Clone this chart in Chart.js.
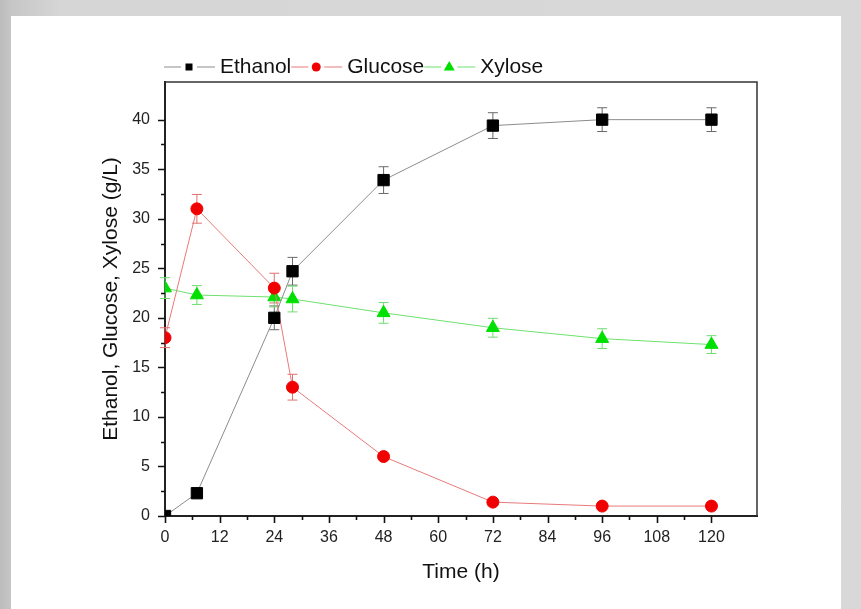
<!DOCTYPE html>
<html>
<head>
<meta charset="utf-8">
<script src="https://cdn.jsdelivr.net/npm/chart.js@4/dist/chart.umd.min.js"></script>
<style>
  html, body { margin:0; padding:0; width:861px; height:609px; overflow:hidden; }
  body { background: linear-gradient(90deg, #bcbcbc 0px, #c6c6c6 11px, #d6d6d6 60px, #d8d8d8 100%); position:relative; }
  #panel { position:absolute; left:11px; top:16px; width:830px; height:593px; background:#fff; }
  #wrap { position:absolute; left:0; top:0; width:861px; height:609px; }
</style>
</head>
<body>
<div id="panel"></div>
<div id="wrap"><canvas id="c" width="861" height="609"></canvas></div>
<script>
// ---- data ----
const timeH = [0, 7, 24, 28, 48, 72, 96, 120];
const ethanol = [0, 2.3, 20, 24.7, 33.9, 39.4, 40, 40];
const ethanolErr = [0, 0, 1.2, 1.4, 1.35, 1.3, 1.2, 1.2];
const glucose = [18, 31, 23, 13, 6, 1.4, 1.0, 1.0];
const glucoseErr = [1.0, 1.45, 1.5, 1.3, 0.3, 0.3, 0.2, 0.2];
const xylose = [23, 22.3, 22.1, 21.9, 20.5, 19, 17.9, 17.3];
const xyloseErr = [1.05, 0.95, 1.0, 1.3, 1.05, 0.95, 1.0, 0.9];
const seriesNames = ['Ethanol', 'Glucose', 'Xylose'];
const xTickStep = 6, xLabelStep = 12;
const yTickStep = 2.5, yLabelStep = 5;

const FONT = '"Liberation Sans", Arial, sans-serif';
const toPts = (ys) => timeH.map((t, i) => ({ x: t, y: ys[i] }));

const errorBars = {
  id: 'errorBars',
  beforeDatasetsDraw(chart) {
    const { ctx, scales: { x, y } } = chart;
    ctx.save();
    chart.data.datasets.forEach((ds) => {
      ds.data.forEach((p, j) => {
        const e = ds.errors[j];
        if (!e) return;
        const px = x.getPixelForValue(p.x);
        const t = y.getPixelForValue(p.y + e);
        const b = y.getPixelForValue(p.y - e);
        ctx.strokeStyle = ds.errorColor;
        ctx.lineWidth = 1;
        ctx.beginPath();
        ctx.moveTo(px, t); ctx.lineTo(px, b);
        ctx.moveTo(px - 5, t); ctx.lineTo(px + 5, t);
        ctx.moveTo(px - 5, b); ctx.lineTo(px + 5, b);
        ctx.stroke();
      });
    });
    ctx.restore();
  }
};

const frameAndTicks = {
  id: 'frameAndTicks',
  afterDraw(chart) {
    const { ctx, chartArea: a, scales: { x, y } } = chart;
    ctx.save();
    ctx.strokeStyle = '#333';
    ctx.lineWidth = 1.5;
    ctx.beginPath();
    ctx.moveTo(a.left, a.top); ctx.lineTo(a.right, a.top); ctx.lineTo(a.right, a.bottom);
    ctx.stroke();
    ctx.strokeStyle = '#111';
    ctx.lineWidth = 1.6;
    ctx.beginPath();
    x.ticks.forEach(t => {
      const px = Math.round(x.getPixelForValue(t.value)) + 0.5;
      const major = Math.abs(t.value % xLabelStep) < 1e-6;
      ctx.moveTo(px, a.bottom); ctx.lineTo(px, a.bottom + (major ? 7 : 4));
    });
    y.ticks.forEach(t => {
      const py = Math.round(y.getPixelForValue(t.value)) + 0.5;
      const major = Math.abs(t.value % yLabelStep) < 1e-6;
      ctx.moveTo(a.left, py); ctx.lineTo(a.left - (major ? 7 : 4), py);
    });
    ctx.stroke();
    ctx.restore();
  }
};

const customLegend = {
  id: 'customLegend',
  afterDraw(chart) {
    const { ctx } = chart;
    const yc = 67;
    let x0 = 164;
    ctx.save();
    ctx.font = '21px ' + FONT;
    ctx.textBaseline = 'middle';
    chart.data.datasets.forEach((ds) => {
      const xc = x0 + 25;
      ctx.strokeStyle = ds.borderColor;
      ctx.lineWidth = 1;
      ctx.beginPath();
      ctx.moveTo(x0, yc); ctx.lineTo(xc - 8, yc);
      ctx.moveTo(xc + 8, yc); ctx.lineTo(x0 + 51, yc);
      ctx.stroke();
      ctx.fillStyle = ds.pointBackgroundColor;
      ctx.beginPath();
      if (ds.pointStyle === 'rect') {
        ctx.rect(xc - 3.5, yc - 3.5, 7, 7);
      } else if (ds.pointStyle === 'circle') {
        ctx.arc(xc, yc, 4.5, 0, Math.PI * 2);
      } else {
        ctx.moveTo(xc, yc - 6); ctx.lineTo(xc + 5.5, yc + 3.5); ctx.lineTo(xc - 5.5, yc + 3.5); ctx.closePath();
      }
      ctx.fill();
      ctx.fillStyle = '#111';
      const tx = x0 + 56;
      ctx.fillText(ds.label, tx, yc);
      x0 = tx + ctx.measureText(ds.label).width;
    });
    ctx.restore();
  }
};

const datasets = [
  { label: seriesNames[0], data: toPts(ethanol), errors: ethanolErr, errorColor: '#6a6a6a',
    borderColor: '#8c8c8c', pointBackgroundColor: '#000', pointBorderColor: '#000',
    pointStyle: 'rect', pointRadius: 8, pointHoverRadius: 8 },
  { label: seriesNames[1], data: toPts(glucose), errors: glucoseErr, errorColor: '#e07070',
    borderColor: '#e87a7a', pointBackgroundColor: '#f00000', pointBorderColor: '#f00000',
    pointStyle: 'circle', pointRadius: 6, pointHoverRadius: 6 },
  { label: seriesNames[2], data: toPts(xylose), errors: xyloseErr, errorColor: '#70dd70',
    borderColor: '#6ee06e', pointBackgroundColor: '#00e000', pointBorderColor: '#00e000',
    pointStyle: 'triangle', pointRadius: 7.5, pointHoverRadius: 7.5 }
].map(d => Object.assign({ borderWidth: 1, pointBorderWidth: 1, tension: 0, fill: false, clip: 0 }, d));

new Chart(document.getElementById('c'), {
  type: 'line',
  data: { datasets },
  plugins: [errorBars, frameAndTicks, customLegend],
  options: {
    responsive: false,
    animation: false,
    layout: { padding: { left: 90, top: 82, right: 104, bottom: 0 } },
    plugins: { legend: { display: false }, tooltip: { enabled: false } },
    scales: {
      x: {
        type: 'linear', min: 0, max: 130,
        afterFit(s) { s.height = 93; },
        afterBuildTicks(s) { s.ticks = s.ticks.filter(t => Math.abs(t.value % xTickStep) < 1e-6); },
        ticks: { stepSize: xTickStep, autoSkip: false, maxRotation: 0, padding: 5, color: '#222',
          font: { family: FONT, size: 16 },
          callback: v => (Math.abs(v % xLabelStep) < 1e-6 ? String(v) : '') },
        grid: { drawOnChartArea: false, drawTicks: true, tickLength: 7, color: 'rgba(0,0,0,0)' },
        border: { display: true, color: '#222', width: 2 },
        title: { display: true, text: 'Time (h)', color: '#111', font: { family: FONT, size: 21 },
          padding: { top: 4, bottom: 24 } }
      },
      y: {
        type: 'linear', min: 0, max: 43.8,
        afterFit(s) { s.width = 75; },
        afterBuildTicks(s) { s.ticks = s.ticks.filter(t => Math.abs(t.value % yTickStep) < 1e-6); },
        ticks: { stepSize: yTickStep, autoSkip: false, padding: 8, color: '#222',
          font: { family: FONT, size: 16 },
          callback: v => (Math.abs(v % yLabelStep) < 1e-6 ? String(v) : '') },
        grid: { drawOnChartArea: false, drawTicks: true, tickLength: 7, color: 'rgba(0,0,0,0)' },
        border: { display: true, color: '#222', width: 2 },
        title: { display: true, text: 'Ethanol, Glucose, Xylose (g/L)', color: '#111',
          font: { family: FONT, size: 21 }, padding: { top: 9, bottom: 4 } }
      }
    }
  }
});
</script>
</body>
</html>
